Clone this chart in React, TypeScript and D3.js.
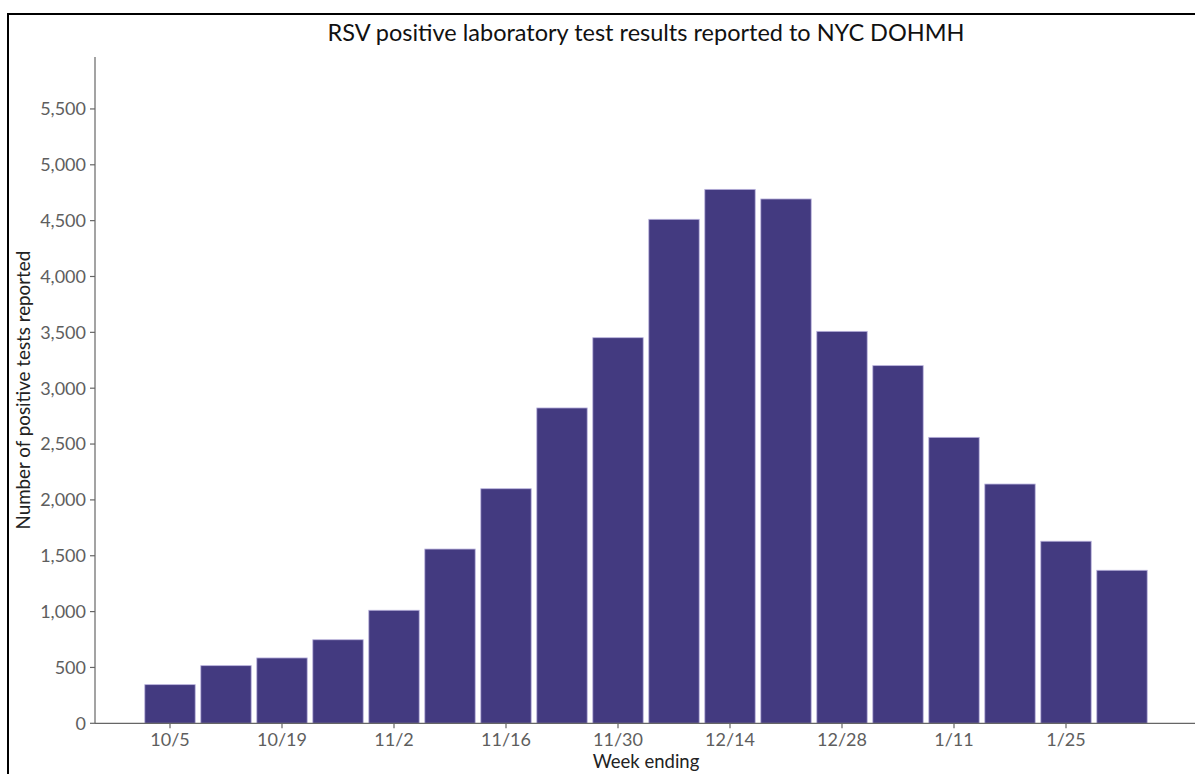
import { useEffect, useRef } from 'react';
import * as d3 from 'd3';

const weeks = [
  '10/5', '10/12', '10/19', '10/26', '11/2', '11/9', '11/16', '11/23', '11/30',
  '12/7', '12/14', '12/21', '12/28', '1/4', '1/11', '1/18', '1/25', '2/1',
];
const positives = [
  346, 516, 585, 748, 1012, 1560, 2100, 2823, 3452,
  4512, 4780, 4694, 3509, 3202, 2560, 2142, 1630, 1370,
];
const xTickLabels = ['10/5', '10/19', '11/2', '11/16', '11/30', '12/14', '12/28', '1/11', '1/25'];
const yTickValues = [0, 500, 1000, 1500, 2000, 2500, 3000, 3500, 4000, 4500, 5000, 5500];

const WIDTH = 1195;
const HEIGHT = 774;
const FONT = 'Lato, "Open Sans", sans-serif';
const BAR_FILL = '#433a80';

const App = () => {
  const svgRef = useRef<SVGSVGElement>(null);

  useEffect(() => {
    if (!svgRef.current) return;
    const svg = d3.select(svgRef.current);
    svg.selectAll('*').remove();

    const plotLeft = 95;
    const plotRight = 1197;
    const plotBottom = 723.3;
    const plotTop = 57;

    const x = d3
      .scaleBand<string>()
      .domain(weeks)
      .range([142, 142 + 56 * weeks.length])
      .paddingInner(0.1)
      .paddingOuter(0.05);

    const y = d3.scaleLinear().domain([0, 5965]).range([plotBottom, plotTop]);

    // outer frame
    svg
      .append('rect')
      .attr('x', 8)
      .attr('y', 14)
      .attr('width', WIDTH + 20)
      .attr('height', HEIGHT + 20)
      .attr('fill', 'none')
      .attr('stroke', '#000')
      .attr('stroke-width', 2);

    // bars
    svg
      .append('g')
      .selectAll('rect')
      .data(positives)
      .enter()
      .append('rect')
      .attr('x', (_, i) => x(weeks[i]) ?? 0)
      .attr('width', x.bandwidth())
      .attr('y', (d) => y(d))
      .attr('height', (d) => plotBottom - y(d))
      .attr('fill', BAR_FILL)
      .attr('stroke', '#b9b2dd')
      .attr('stroke-width', 0.8);

    // y axis
    const yAxis = svg.append('g').attr('transform', `translate(${plotLeft},0)`);
    yAxis
      .append('line')
      .attr('y1', plotTop)
      .attr('y2', plotBottom)
      .attr('stroke', '#666')
      .attr('stroke-width', 1.2);
    const yTicks = yAxis
      .selectAll('.ytick')
      .data(yTickValues)
      .enter()
      .append('g')
      .attr('transform', (d) => `translate(0,${y(d)})`);
    yTicks.append('line').attr('x1', -5).attr('x2', 0).attr('stroke', '#666').attr('stroke-width', 1.2);
    yTicks
      .append('text')
      .attr('x', -9)
      .attr('dy', '0.35em')
      .attr('text-anchor', 'end')
      .attr('fill', '#5e5e5e')
      .style('font-family', FONT)
      .style('font-size', '18px')
      .text((d) => d3.format(',')(d));

    // x axis
    const xAxis = svg.append('g').attr('transform', `translate(0,${plotBottom})`);
    xAxis
      .append('line')
      .attr('x1', plotLeft)
      .attr('x2', plotRight)
      .attr('stroke', '#666')
      .attr('stroke-width', 1.2);
    const xTicks = xAxis
      .selectAll('.xtick')
      .data(xTickLabels)
      .enter()
      .append('g')
      .attr('transform', (d) => `translate(${(x(d) ?? 0) + x.bandwidth() / 2},0)`);
    xTicks.append('line').attr('y1', 0).attr('y2', 5).attr('stroke', '#666').attr('stroke-width', 1.2);
    xTicks
      .append('text')
      .attr('y', 22.5)
      .attr('text-anchor', 'middle')
      .attr('fill', '#5e5e5e')
      .style('font-family', FONT)
      .style('font-size', '18px')
      .text((d) => d);

    // titles
    const centerX = (plotLeft + plotRight) / 2;
    svg
      .append('text')
      .attr('x', centerX)
      .attr('y', 41)
      .attr('text-anchor', 'middle')
      .attr('fill', '#111')
      .style('font-family', FONT)
      .style('font-size', '23.5px')
      .text('RSV positive laboratory test results reported to NYC DOHMH');

    svg
      .append('text')
      .attr('x', centerX)
      .attr('y', 768)
      .attr('text-anchor', 'middle')
      .attr('fill', '#222')
      .style('font-family', FONT)
      .style('font-size', '18.5px')
      .text('Week ending');

    svg
      .append('text')
      .attr('transform', `translate(30,${(plotTop + plotBottom) / 2}) rotate(-90)`)
      .attr('text-anchor', 'middle')
      .attr('fill', '#222')
      .style('font-family', FONT)
      .style('font-size', '18.8px')
      .text('Number of positive tests reported');
  }, []);

  return (
    <div style={{ position: 'absolute', left: 0, top: 0, width: WIDTH, height: HEIGHT, background: '#fff' }}>
      <svg ref={svgRef} width={WIDTH} height={HEIGHT} style={{ display: 'block' }} />
    </div>
  );
};

export default App;
